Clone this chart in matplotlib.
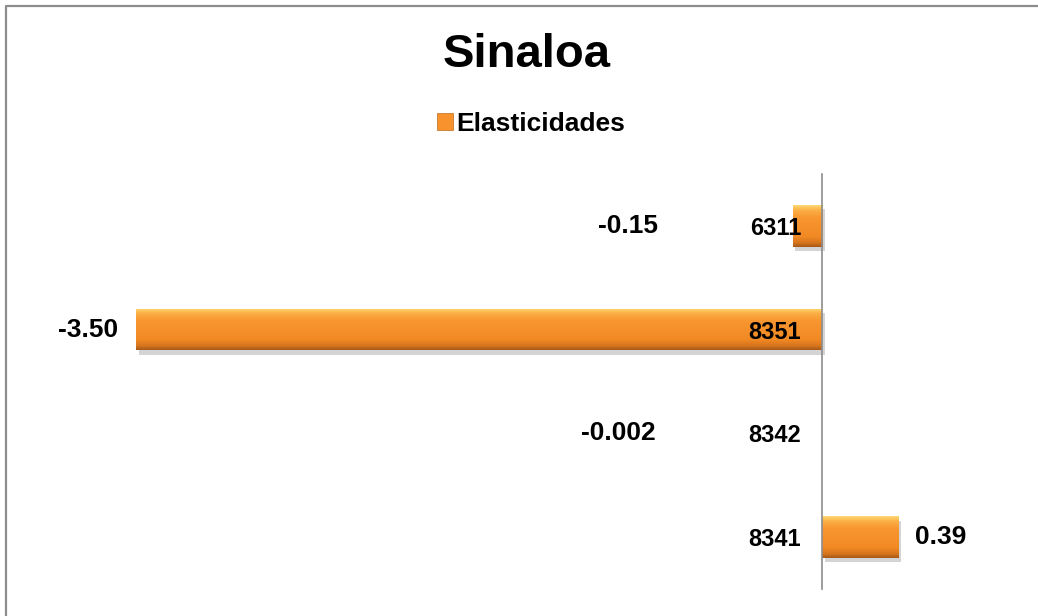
import matplotlib
matplotlib.use("Agg")
import matplotlib.pyplot as plt
import numpy as np
from matplotlib import patches, patheffects
from matplotlib.lines import Line2D
from matplotlib.colors import LinearSegmentedColormap

plt.rcParams['font.family'] = ['Liberation Sans', 'DejaVu Sans']

title = "Sinaloa"
series_name = "Elasticidades"
categories = ["6311", "8351", "8342", "8341"]
values = [-0.15, -3.50, -0.002, 0.39]
value_labels = ["-0.15", "-3.50", "-0.002", "0.39"]

# label placement (pixels offset from bar end) -- style only
label_offsets = [-135, -18, -166, 17]
label_ha = ["right", "right", "right", "left"]

W, H = 1038, 616
fig = plt.figure(figsize=(W / 100, H / 100), dpi=100)
fig.patch.set_facecolor("white")

xmin, xmax = -3.7, 0.9
ppu = 196.0
zero_px = 822
left_px = zero_px + xmin * ppu
width_px = (xmax - xmin) * ppu
top_px, bot_px = 174, 589
ax = fig.add_axes([left_px / W, (H - bot_px) / H, width_px / W, (bot_px - top_px) / H])
ax.set_xlim(xmin, xmax)

ypos = np.arange(len(categories))
bars = ax.barh(ypos, values, height=0.4, color="#F7922C", zorder=2)
ax.set_ylim(len(categories) - 0.5, -0.5)

cmap = LinearSegmentedColormap.from_list(
    "bar", [(0.0, "#FFD873"), (0.12, "#FBAE45"), (0.3, "#F8962F"),
            (0.75, "#F28A24"), (0.9, "#D9761D"), (1.0, "#A85A18")])
grad = np.linspace(0, 1, 64).reshape(-1, 1)
for b in bars:
    x0, y0 = b.get_x(), b.get_y()
    w, h = b.get_width(), b.get_height()
    if abs(w) < 0.01:
        b.set_alpha(0.3)
        continue
    b.set_path_effects([patheffects.SimplePatchShadow(offset=(2, -3), alpha=0.25, shadow_rgbFace="#555555"),
                        patheffects.Normal()])
    im = ax.imshow(grad, cmap=cmap, aspect="auto", interpolation="bilinear",
                   extent=(min(x0, x0 + w), max(x0, x0 + w), y0 + h, y0), zorder=2.1)
    im.set_clip_path(b)

ax.set_xlim(xmin, xmax)
ax.set_ylim(len(categories) - 0.5, -0.5)

for sp in ["top", "right", "bottom"]:
    ax.spines[sp].set_visible(False)
ax.spines["left"].set_position(("data", 0))
ax.spines["left"].set_color("#8C8C8C")
ax.spines["left"].set_linewidth(1.2)
ax.spines["left"].set_zorder(3)
ax.set_xticks([])
ax.set_yticks(ypos)
ax.set_yticklabels(categories, fontsize=17, fontweight="bold")
ax.tick_params(axis="y", length=0, pad=15)
ax.yaxis.set_zorder(5)

for b, v, lab, off, ha in zip(bars, values, value_labels, label_offsets, label_ha):
    ax.annotate(lab, xy=(v, b.get_y() + b.get_height() / 2), xytext=(off, 0),
                textcoords="offset pixels", ha=ha, va="center",
                fontsize=19, fontweight="bold", zorder=6)

fig.text(527 / W, 1 - 55 / H, title, ha="center", va="center", fontsize=34, fontweight="bold")

# legend
handle = patches.Patch(facecolor="#F7922C", edgecolor="#C06A1A", linewidth=0.5)
fig.legend([handle], [series_name], loc="center", bbox_to_anchor=(531 / W, 1 - 124 / H),
           frameon=False, prop={"weight": "bold", "size": 19},
           handlelength=0.6, handleheight=0.6, handletextpad=0.15)

# chart border (top and left visible)
fig.add_artist(Line2D([5.5 / W, 5.5 / W, 1.0], [0.0, 1 - 5.5 / H, 1 - 5.5 / H],
                      transform=fig.transFigure, color="#8C8C8C", linewidth=1.6))

fig.savefig("out.png", dpi=100)
